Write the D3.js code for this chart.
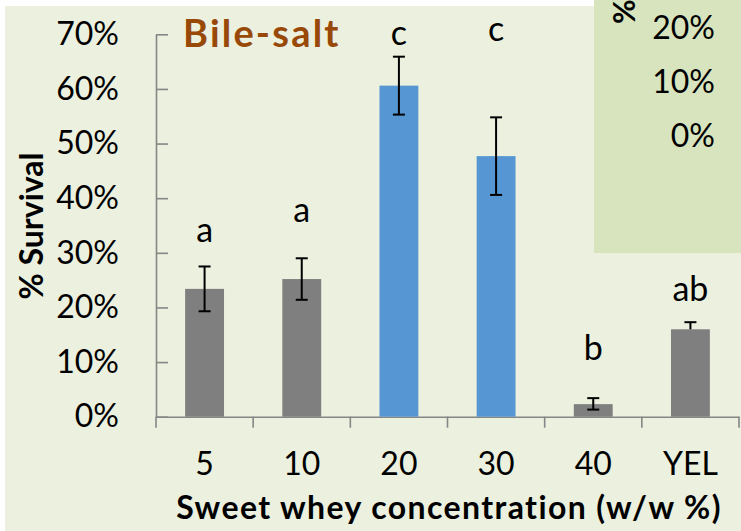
<!DOCTYPE html>
<html>
<head>
<meta charset="utf-8">
<script src="https://cdn.jsdelivr.net/npm/d3@7"></script>
<style>
  body { margin: 0; background: #fff; }
  svg { display: block; font-family: Lato, "Open Sans", sans-serif; }
</style>
</head>
<body>
<div id="chart"></div>
<script>
// values (% survival)
const categories = ["5", "10", "20", "30", "40", "YEL"];
const survival = [23.4, 25.2, 60.6, 47.7, 2.3, 16.0];
const errPlus = [4.1, 3.8, 5.3, 7.1, 1.1, 1.3];
const errMinus = [4.1, 3.8, 5.3, 7.1, 1.0, 0];
const letters = ["a", "a", "c", "c", "b", "ab"];
const letterAt = [32.0, 35.7, 68.1, 68.7, 10.4, 21.1];
const highlighted = ["20", "30"];
const yTicks = [0, 10, 20, 30, 40, 50, 60, 70];
// leftover axis labels of the panel next door
const insetTicks = [0, 10, 20];

const width = 741, height = 531;
const axisColor = "#868686";

const rows = categories.map((c, i) => ({
  cat: c, value: survival[i], up: errPlus[i], down: errMinus[i],
  letter: letters[i], letterAt: letterAt[i]
}));

const svg = d3.select("#chart").append("svg")
  .attr("width", width)
  .attr("height", height);

// chart area background
svg.append("rect")
  .attr("x", 5).attr("y", 6)
  .attr("width", width - 5).attr("height", height - 6)
  .attr("fill", "#EBF0DF");

const x = d3.scaleBand()
  .domain(categories)
  .range([156, 739])
  .paddingInner(0.6)
  .paddingOuter(0.3);

const y = d3.scaleLinear()
  .domain([0, 70])
  .range([416.7, 34.3]);

// y axis, ticks pointing inward
const gy = svg.append("g")
  .attr("transform", "translate(156,0)")
  .call(d3.axisLeft(y)
    .tickValues(yTicks)
    .tickFormat(d => d + "%")
    .tickSizeInner(-12)
    .tickSizeOuter(0)
    .tickPadding(37));
gy.selectAll("path, line").attr("stroke", axisColor).attr("stroke-width", 1.6);
gy.selectAll("text").attr("font-size", 32).attr("fill", "#000").attr("font-family", "Lato");

// x axis: labels at the centres, ticks on the category boundaries
const gx = svg.append("g")
  .attr("transform", `translate(0,${y(0)})`)
  .call(d3.axisBottom(x).tickSize(0).tickPadding(36));
gx.select(".domain").attr("stroke", axisColor).attr("stroke-width", 1.6);
gx.selectAll("text").attr("font-size", 32).attr("fill", "#000").attr("font-family", "Lato");

const bounds = categories.map(c => x(c) - x.step() * x.paddingOuter()).concat([x.range()[1]]);
gx.selectAll(".bound")
  .data(bounds)
  .enter()
  .append("line")
  .attr("class", "bound")
  .attr("x1", d => d).attr("x2", d => d)
  .attr("y1", 0).attr("y2", 11)
  .attr("stroke", axisColor)
  .attr("stroke-width", 1.6);

// bars
svg.selectAll(".bar")
  .data(rows)
  .enter()
  .append("rect")
  .attr("class", "bar")
  .attr("x", d => x(d.cat))
  .attr("y", d => y(d.value))
  .attr("width", x.bandwidth())
  .attr("height", d => y(0) - y(d.value))
  .attr("fill", d => highlighted.includes(d.cat) ? "#5596D3" : "#7F7F7F");

// error bars
const capW = 12;
const err = svg.selectAll(".err")
  .data(rows)
  .enter()
  .append("g")
  .attr("class", "err")
  .attr("transform", d => `translate(${x(d.cat) + x.bandwidth() / 2},0)`)
  .attr("stroke", "#000")
  .attr("stroke-width", 2);
err.append("line")
  .attr("y1", d => y(d.value + d.up))
  .attr("y2", d => y(d.value - d.down));
err.append("line")
  .attr("x1", -capW / 2).attr("x2", capW / 2)
  .attr("y1", d => y(d.value + d.up)).attr("y2", d => y(d.value + d.up));
err.filter(d => d.down > 0).append("line")
  .attr("x1", -capW / 2).attr("x2", capW / 2)
  .attr("y1", d => y(d.value - d.down)).attr("y2", d => y(d.value - d.down));

// significance letters
svg.selectAll(".letter")
  .data(rows)
  .enter()
  .append("text")
  .attr("class", "letter")
  .attr("x", d => x(d.cat) + x.bandwidth() / 2)
  .attr("y", d => y(d.letterAt))
  .attr("text-anchor", "middle")
  .attr("font-size", 34)
  .text(d => d.letter);

// titles
svg.append("text")
  .attr("x", 183).attr("y", 46.5)
  .attr("font-size", 38)
  .attr("font-weight", "bold")
  .attr("letter-spacing", 2.2)
  .attr("fill", "#984807")
  .text("Bile-salt");

svg.append("text")
  .attr("transform", "translate(43,226) rotate(-90)")
  .attr("text-anchor", "middle")
  .attr("font-size", 32)
  .attr("font-weight", "bold")
  .text("% Survival");

svg.append("text")
  .attr("x", 449).attr("y", 519)
  .attr("text-anchor", "middle")
  .attr("font-size", 32)
  .attr("font-weight", "bold")
  .attr("letter-spacing", 1.4)
  .text("Sweet whey concentration (w/w %)");

// green panel overlapping top right
const inset = svg.append("g");
inset.append("rect")
  .attr("x", 594).attr("y", 0)
  .attr("width", width - 594).attr("height", 253)
  .attr("fill", "#D7E4BD");
const yInset = d3.scaleLinear().domain([0, 20]).range([135.5, 27.5]);
inset.selectAll(".itick")
  .data(insetTicks)
  .enter()
  .append("text")
  .attr("x", 715)
  .attr("y", d => yInset(d))
  .attr("dy", "0.36em")
  .attr("text-anchor", "end")
  .attr("font-size", 32)
  .text(d => d + "%");
inset.append("text")
  .attr("transform", "translate(635,24) rotate(-90)")
  .attr("font-size", 30)
  .attr("font-weight", "bold")
  .text("%");
</script>
</body>
</html>
